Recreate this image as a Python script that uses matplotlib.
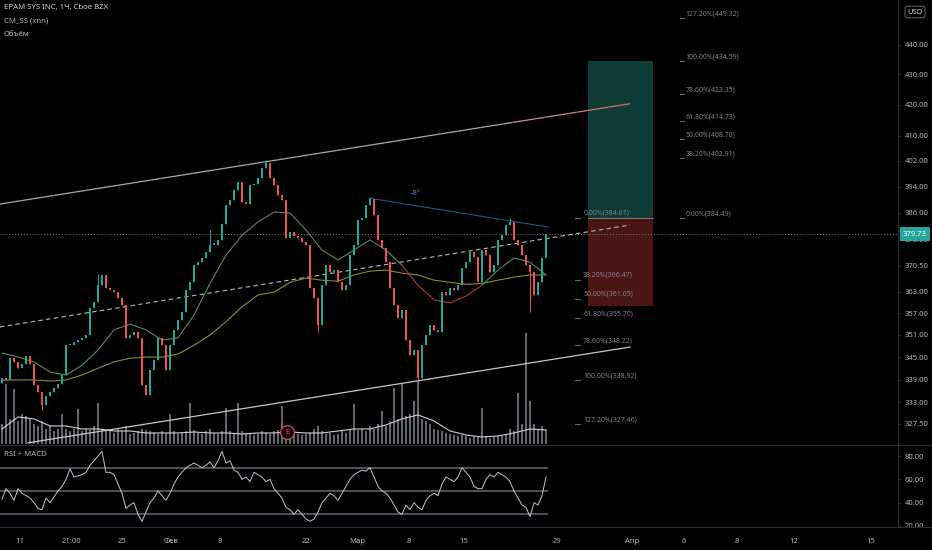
import numpy as np
import matplotlib
matplotlib.use('Agg')
import matplotlib.pyplot as plt
import matplotlib.transforms as mtrans
from matplotlib.ticker import FixedLocator, NullLocator, NullFormatter, FuncFormatter
from matplotlib.collections import LineCollection
from matplotlib.patches import Rectangle
from matplotlib.lines import Line2D

plt.rcParams['font.family'] = ['Noto Sans', 'DejaVu Sans']

# ---------------- data ----------------
first_open = 338.0
closes = [339.4, 338.9, 344.7, 343.7, 342.0, 343.1, 345.3, 343.1, 337.6, 335.8,
          332.3, 334.7, 335.8, 336.8, 337.8, 340.2, 348.2, 348.2, 349.0, 349.6,
          350.2, 351.0, 358.5, 360.1, 364.9, 367.8, 364.1, 363.5, 362.9, 361.3,
          359.3, 350.2, 351.0, 351.8, 350.2, 337.6, 335.0, 341.5, 344.2, 350.2,
          348.2, 341.5, 348.2, 352.4, 355.1, 357.3, 363.5, 365.7, 370.6, 371.5,
          372.7, 374.4, 376.5, 376.5, 378.0, 382.7, 388.4, 389.9, 393.0, 395.4,
          389.3, 388.7, 394.5, 394.8, 396.6, 399.8, 401.3, 396.6, 394.5, 391.5,
          389.9, 378.6, 380.3, 379.1, 378.6, 377.4, 376.5, 364.1, 361.3, 353.7,
          364.9, 370.6, 368.6, 369.2, 365.7, 363.5, 364.9, 373.5, 376.5, 383.9,
          384.5, 388.4, 390.2, 385.4, 378.0, 375.6, 371.5, 364.1, 359.3, 355.7,
          357.9, 349.6, 345.5, 346.9, 339.4, 348.2, 351.0, 353.7, 352.4, 351.8,
          362.9, 362.1, 364.1, 363.5, 364.9, 369.8, 371.5, 374.4, 372.9, 365.7,
          375.0, 373.5, 368.6, 370.6, 378.0, 379.4, 382.4, 383.3, 378.0, 376.5,
          373.5, 370.6, 368.6, 362.1, 365.7, 372.7, 379.73]
wick_idx = [10, 24, 52, 66, 79, 92, 104, 127, 132]
wick_high = [None, 368.2, 380.9, 402.3, None, 390.7, None, 384.61, None]
wick_low = [331.0, None, None, None, 351.8, None, 338.9, None, 357.3]

volumes = [40, 120, 50, 110, 45, 60, 55, 50, 40, 35, 45, 30, 35, 25, 30, 60, 30, 25, 30, 70,
           25, 30, 28, 35, 82, 30, 25, 28, 22, 30, 25, 35, 20, 22, 25, 30, 28, 25, 22, 20,
           25, 22, 60, 25, 20, 22, 25, 82, 28, 22, 20, 25, 30, 22, 20, 25, 72, 25, 22, 82,
           25, 20, 22, 18, 20, 25, 22, 20, 25, 28, 76, 30, 25, 22, 20, 18, 20, 22, 30, 35,
           25, 20, 22, 18, 20, 25, 22, 30, 80, 28, 30, 25, 35, 30, 40, 66, 35, 45, 112, 50,
           120, 55, 60, 86, 126, 50, 45, 40, 30, 28, 25, 22, 20, 18, 15, 18, 15, 12, 15, 14,
           72, 15, 12, 14, 16, 15, 18, 30, 25, 102, 40, 222, 86, 40, 30, 35, 28]

rsi = [43, 52, 48, 42, 52, 48, 46, 44, 40, 35, 34, 44, 40, 45, 50, 54, 60, 69, 62, 63,
       64, 66, 72, 76, 80, 84, 66, 66, 64, 56, 48, 35, 38, 40, 30, 24, 32, 40, 44, 50,
       46, 42, 48, 56, 62, 66, 70, 72, 74, 72, 70, 72, 75, 70, 76, 84, 74, 76, 68, 66,
       60, 62, 58, 66, 64, 62, 58, 60, 52, 48, 44, 36, 34, 30, 34, 30, 26, 24, 26, 32,
       40, 44, 48, 46, 42, 48, 54, 60, 64, 66, 68, 67, 70, 62, 54, 50, 48, 44, 38, 32,
       30, 38, 34, 40, 36, 34, 42, 46, 48, 46, 56, 62, 60, 58, 62, 70, 66, 62, 54, 52,
       52, 60, 64, 62, 66, 64, 62, 58, 50, 44, 38, 36, 28, 40, 38, 46, 62]

ma_step = 4
fast_ma = [346.1, 345.0, 343.7, 341.0, 340.2, 342.8, 346.9, 352.4, 354.0, 352.4,
           349.6, 350.2, 356.5, 365.4, 373.5, 379.4, 383.3, 386.3, 386.0, 380.9,
           375.0, 372.1, 375.0, 378.0, 375.0, 370.6, 364.9, 360.7, 359.9, 361.8,
           364.9, 369.2, 372.7, 371.5, 367.8]
slow_ma = [338.9, 338.9, 338.9, 338.6, 338.9, 340.2, 342.0, 343.7, 344.7, 345.0,
           345.0, 345.8, 348.2, 351.0, 354.6, 358.8, 362.1, 362.9, 365.7, 366.9,
           366.3, 366.0, 367.8, 368.9, 369.2, 368.3, 367.8, 366.3, 365.7, 365.1,
           365.4, 366.3, 367.2, 367.8, 367.8]
vol_ma = [30, 54, 50, 36, 36, 30, 30, 26, 26, 22, 22, 22, 24, 22, 22, 20, 22, 22, 24, 22,
          22, 26, 30, 30, 38, 50, 58, 46, 26, 18, 14, 16, 22, 30, 28]

last_price = 379.73
channel_upper = [(-0.5, 388.7), (157.0, 420.3)]
channel_lower = [(6.5, 322.7), (157.0, 347.7)]
channel_mid = [(-0.5, 353.2), (157.0, 382.4)]
angle_line = [(91.75, 390.5), (136.5, 381.8)]
angle_label = "-8°"
angle_label_pos = (102.25, 391.8)

pos_entry, pos_target, pos_stop = 384.61, 434.59, 358.9
pos_x0, pos_x1 = 146.5, 162.75

fib_left_levels = [0.0, 38.2, 50.0, 61.8, 78.6, 100.0, 127.2]
fib_left_prices = [384.61, 366.47, 361.05, 355.70, 348.22, 338.92, 327.46]
fib_right_levels = [127.2, 100.0, 78.6, 61.8, 50.0, 38.2, 0.0]
fib_right_prices = [449.32, 434.59, 423.35, 414.73, 408.78, 402.91, 384.49]

price_ticks = [440, 430, 420, 410, 402, 394, 386, 378, 370.5, 363, 357, 351, 345, 339, 333, 327.5]
rsi_ticks = [80, 60, 40, 20]
rsi_bands = [70, 50, 30]
date_labels = ['11', '21:00', '25', 'Фев', '8', '22', 'Мар', '8', '15', '29',
               'Апр', '6', '8', '12', '15']
date_pos = [4.5, 17.25, 30, 42.25, 54.5, 76, 88.75, 101.75, 115.5, 138.75,
            157.5, 170.5, 183.75, 198, 217.25]

# ---------------- style ----------------
BG = '#000000'
UP = '#26a69a'
DN = '#ef5350'
TXT = '#b2b5be'
GRID = '#2a2e39'
FIB = '#80838d'

fig = plt.figure(figsize=(9.32, 5.5), dpi=100, facecolor=BG)
def fx(px): return px / 932.0
def fy(py): return 1 - py / 550.0

rect_main = [0, fy(444), fx(898), 444 / 550.0]
rect_rsi = [0, fy(527), fx(898), 83 / 550.0]
XLIM = (-0.5, 224.0)

n = len(closes)
idx = np.arange(n)
opens = [first_open] + closes[:-1]

# volume (overlay, underneath)
ax_v = fig.add_axes(rect_main, label='vol')
ax_v.set_facecolor(BG)
ax_v.set_xlim(*XLIM)
ax_v.set_ylim(0, 886)
ax_v.bar(idx, volumes, width=0.3, color='#64676f', linewidth=0)
ax_v.plot(np.arange(len(vol_ma)) * ma_step, vol_ma, color='#d0d1d4', lw=0.8)
ax_v.axis('off')

# main price axes
ax = fig.add_axes(rect_main, label='price')
ax.patch.set_visible(False)
ax.set_yscale('log')
ax.set_xlim(*XLIM)
ax.set_ylim(322.4, 455.7)
for s in ax.spines.values():
    s.set_visible(False)

# position tool
ax.add_patch(Rectangle((pos_x0, pos_entry), pos_x1 - pos_x0, pos_target - pos_entry,
                       facecolor='#0f3c36', edgecolor='none', zorder=0.5))
ax.add_patch(Rectangle((pos_x0, pos_stop), pos_x1 - pos_x0, pos_entry - pos_stop,
                       facecolor='#4a1614', edgecolor='none', zorder=0.5))
ax.plot([pos_x0, pos_x1], [pos_entry, pos_entry], color='#8a8d96', lw=0.6, zorder=0.6)

# last price dotted line
ax.axhline(last_price, color='#787b86', lw=0.7, ls=(0, (1, 2)), zorder=1)

# channel lines
def straight(p0, p1, k=60):
    xs = np.linspace(p0[0], p1[0], k)
    ys = np.geomspace(p0[1], p1[1], k)
    return xs, ys

xs, ys = straight(*channel_upper)
pts = np.column_stack([xs, ys]).reshape(-1, 1, 2)
segs = np.concatenate([pts[:-1], pts[1:]], axis=1)
c0 = np.array(matplotlib.colors.to_rgb('#a9abb2'))
c1 = np.array(matplotlib.colors.to_rgb('#f0645a'))
tt = np.linspace(0, 1, len(segs))
cols = [c0 + (c1 - c0) * np.clip((t - 0.78) / 0.22, 0, 1) for t in tt]
ax.add_collection(LineCollection(segs, colors=cols, linewidths=0.9, zorder=2))

xs, ys = straight(*channel_lower)
ax.plot(xs, ys, color='#c5c7cc', lw=0.9, zorder=2)
xs, ys = straight(*channel_mid)
ax.plot(xs, ys, color='#b8bac0', lw=0.8, ls=(0, (4, 3)), zorder=2)

# angle line
xs, ys = straight(*angle_line)
ax.plot(xs, ys, color='#2f4f8f', lw=0.8, zorder=2)
ax.text(angle_label_pos[0], angle_label_pos[1], angle_label, color='#4d86d9',
        fontsize=5.5, ha='left', va='center', zorder=3)

# moving averages
mx = np.arange(len(fast_ma)) * ma_step
fpts = np.column_stack([mx, fast_ma]).reshape(-1, 1, 2)
fsegs = np.concatenate([fpts[:-1], fpts[1:]], axis=1)
fcols = []
for k in range(len(fsegs)):
    below = (fast_ma[k] + fast_ma[k + 1]) < (slow_ma[k] + slow_ma[k + 1])
    fcols.append('#b03a38' if below else '#5f8a55')
ax.plot(mx, slow_ma, color='#8f8b30', lw=0.8, zorder=2.2)
ax.add_collection(LineCollection(fsegs, colors=fcols, linewidths=0.8, zorder=2.3))

# candles
highs = [max(o, c) for o, c in zip(opens, closes)]
lows = [min(o, c) for o, c in zip(opens, closes)]
for k, i in enumerate(wick_idx):
    if wick_high[k] is not None:
        highs[i] = wick_high[k]
    if wick_low[k] is not None:
        lows[i] = wick_low[k]
ccols = [UP if c >= o else DN for o, c in zip(opens, closes)]
ax.vlines(idx, lows, highs, colors=ccols, lw=0.7, zorder=3)
bot = np.minimum(opens, closes)
top = np.maximum(opens, closes)
top = np.maximum(top, bot * 1.0012)
ax.bar(idx, top - bot, bottom=bot, width=0.6, color=ccols, linewidth=0, zorder=3.1)

# fib labels
for lv, pr in zip(fib_left_levels, fib_left_prices):
    ax.plot([143.3, 144.6], [pr, pr], color=FIB, lw=0.6, zorder=3)
    ax.text(145.3, pr * 1.0006, f'{lv:.2f}%({pr:.2f})', color=FIB, fontsize=5,
            ha='left', va='bottom', zorder=3)
for lv, pr in zip(fib_right_levels, fib_right_prices):
    ax.plot([169.4, 170.6], [pr, pr], color=FIB, lw=0.6, zorder=3)
    ax.text(170.9, pr * 1.0006, f'{lv:.2f}%({pr:.2f})', color=FIB, fontsize=5,
            ha='left', va='bottom', zorder=3)

# earnings marker
bt = mtrans.blended_transform_factory(ax.transData, ax.transAxes)
ax.plot([71.25], [0.027], transform=bt, marker='o', ms=10, mfc='#14070a',
        mec='#d9425f', mew=0.9, zorder=4, clip_on=False)
ax.text(71.25, 0.027, 'E', transform=bt, color='#d9425f', fontsize=5.5,
        ha='center', va='center', zorder=5)

# price axis
ax.yaxis.tick_right()
ax.yaxis.set_major_locator(FixedLocator(price_ticks))
ax.yaxis.set_major_formatter(FuncFormatter(lambda v, p: f'{v:.2f}'))
ax.yaxis.set_minor_locator(NullLocator())
ax.yaxis.set_minor_formatter(NullFormatter())
ax.tick_params(axis='y', colors=TXT, labelsize=5.5, length=2, width=0.5, pad=3)
ax.tick_params(axis='y', color=GRID)
ax.set_xticks([])

bty = mtrans.blended_transform_factory(ax.transAxes, ax.transData)
ax.text(915 / 898.0, last_price, f'{last_price:.2f}', transform=bty, color='white',
        fontsize=5.5, ha='center', va='center', zorder=10, clip_on=False,
        bbox=dict(boxstyle='square,pad=0.4', fc=UP, ec='none'))

# RSI
ax_r = fig.add_axes(rect_rsi, label='rsi')
ax_r.set_facecolor(BG)
ax_r.set_xlim(*XLIM)
ax_r.set_ylim(19.14, 90.3)
for b in rsi_bands:
    ax_r.hlines(b, -0.5, n - 0.5, color='#50535d', lw=1.4, zorder=1)
ax_r.plot(idx, rsi, color='#c4c6cc', lw=0.7, zorder=2)
for s in ax_r.spines.values():
    s.set_visible(False)
ax_r.yaxis.tick_right()
ax_r.set_yticks(rsi_ticks)
ax_r.yaxis.set_major_formatter(FuncFormatter(lambda v, p: f'{v:.2f}'))
ax_r.tick_params(axis='y', colors=TXT, labelsize=5.5, length=2, width=0.5, pad=3)
ax_r.tick_params(axis='y', color=GRID)
ax_r.set_xticks(date_pos)
ax_r.set_xticklabels(date_labels)
ax_r.tick_params(axis='x', colors=TXT, labelsize=5.5, length=0, pad=8)

# separators
for ln in [Line2D([fx(898), fx(898)], [fy(0), fy(527)]),
           Line2D([0, 1], [fy(444.5), fy(444.5)]),
           Line2D([0, 1], [fy(527), fy(527)])]:
    ln.set_transform(fig.transFigure)
    ln.set_color(GRID)
    ln.set_linewidth(0.8)
    fig.add_artist(ln)

# header texts
fig.text(fx(4), fy(7), 'EPAM SYS INC, 1Ч, Cboe BZX', color='#d1d4dc', fontsize=5.6,
         ha='left', va='center')
fig.text(fx(4), fy(21), 'CM_SS (xnn)', color='#b2b5be', fontsize=5.6, ha='left', va='center')
fig.text(fx(4), fy(34), 'Объём', color='#b2b5be', fontsize=5.6, ha='left', va='center')
fig.text(fx(4), fy(455), 'RSI + MACD', color='#b2b5be', fontsize=5.6, ha='left', va='center')
fig.text(fx(915), fy(12), 'USD', color='#d1d4dc', fontsize=5.5, ha='center', va='center',
         bbox=dict(boxstyle='round,pad=0.3', fc=BG, ec='#787b86', lw=0.6))

fig.savefig('out.png', dpi=100, facecolor=BG)
